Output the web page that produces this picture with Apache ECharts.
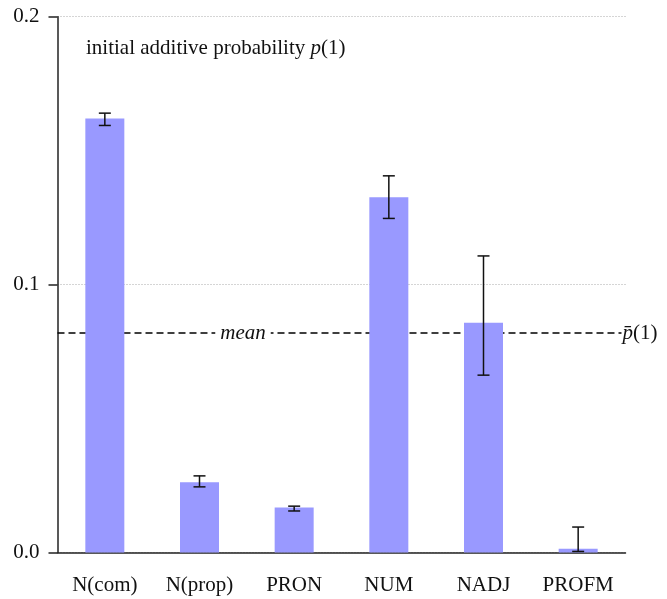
<!DOCTYPE html>
<html lang="en">
<head>
    <meta charset="UTF-8">
    <title>initial additive probability</title>
    <script src="https://cdn.jsdelivr.net/npm/echarts@6.0.0/dist/echarts.min.js"></script>
    <style>
        body { margin: 0; background: #fff; }
        #chart { width: 667px; height: 599px; }
    </style>
</head>
<body>
<div id="chart"></div>
<script type="text/javascript">

    // data
    let categories = ['N(com)', 'N(prop)', 'PRON', 'NUM', 'NADJ', 'PROFM'];
    let probValues = [0.1620, 0.0262, 0.0168, 0.1326, 0.0858, 0.0014];
    let errLow = [0.1594, 0.0245, 0.0155, 0.1247, 0.0662, 0.0004];
    let errHigh = [0.1640, 0.0286, 0.0173, 0.1406, 0.1107, 0.0095];
    let meanValue = 0.0819;
    let yTicks = [0, 0.1, 0.2];

    let serif = '"Liberation Serif", "DejaVu Serif", serif';
    let axisColor = '#222';
    let textColor = '#111';

    let errData = [];
    for (let i = 0; i < categories.length; i++) {
        errData.push([i, errLow[i], errHigh[i]]);
    }

    let myChart = echarts.init(document.getElementById('chart'));

    let option = {
        animation: false,
        backgroundColor: '#fff',
        title: {
            text: '{a|initial additive probability }{b|p}{a|(1)}',
            left: 81,
            top: 33,
            textStyle: {
                rich: {
                    a: {fontFamily: serif, fontSize: 21, color: textColor, fontWeight: 'normal'},
                    b: {fontFamily: serif, fontSize: 21, color: textColor, fontWeight: 'normal', fontStyle: 'italic'}
                }
            }
        },
        grid: {
            left: 57.5,
            right: 41.5,
            top: 16.7,
            bottom: 46.5
        },
        xAxis: {
            type: 'category',
            data: categories,
            axisLine: {lineStyle: {color: axisColor, width: 1.5}},
            axisTick: {length: 7, lineStyle: {color: axisColor, width: 1.5}},
            axisLabel: {fontFamily: serif, fontSize: 21, color: textColor, margin: 22}
        },
        yAxis: {
            type: 'value',
            min: yTicks[0],
            max: yTicks[yTicks.length - 1],
            interval: 0.1,
            axisLine: {show: true, lineStyle: {color: axisColor, width: 1.5}},
            axisTick: {show: true, length: 9, lineStyle: {color: axisColor, width: 1.5}},
            axisLabel: {
                fontFamily: serif, fontSize: 21, color: textColor, margin: 18,
                formatter: function (v) { return v.toFixed(1); }
            },
            splitLine: {
                show: true,
                lineStyle: {color: '#aaa', type: [1, 2], width: 1}
            }
        },
        series: [
            {
                // dashed mean line with its two labels, under the bars
                name: 'mean',
                type: 'custom',
                z: 1,
                silent: true,
                data: [[0, meanValue]],
                encode: {y: 1},
                renderItem: function (params, api) {
                    let cs = params.coordSys;
                    let y = api.coord([0, api.value(1)])[1];
                    return {
                        type: 'group',
                        children: [
                            {
                                type: 'line',
                                shape: {x1: cs.x, y1: y, x2: cs.x + cs.width - 4, y2: y},
                                style: {stroke: '#000', lineWidth: 1.5, lineDash: [7, 4]}
                            },
                            {
                                type: 'text',
                                x: 243,
                                y: y,
                                style: {
                                    text: 'mean',
                                    font: 'italic 21px ' + serif,
                                    fill: textColor,
                                    align: 'center',
                                    verticalAlign: 'middle',
                                    backgroundColor: '#fff',
                                    padding: [0, 5]
                                }
                            },
                            {
                                type: 'text',
                                x: cs.x + cs.width - 3,
                                y: y,
                                style: {
                                    text: '{b|p\u0304}{a|(1)}',
                                    align: 'left',
                                    verticalAlign: 'middle',
                                    rich: {
                                        a: {font: '21px ' + serif, fill: textColor},
                                        b: {font: 'italic 21px ' + serif, fill: textColor}
                                    }
                                }
                            }
                        ]
                    };
                }
            },
            {
                name: 'p(1)',
                type: 'bar',
                data: probValues,
                barWidth: 39,
                z: 2,
                itemStyle: {color: '#9999FF'}
            },
            {
                name: 'error',
                type: 'custom',
                z: 3,
                data: errData,
                encode: {x: 0, y: [1, 2]},
                renderItem: function (params, api) {
                    let lo = api.coord([api.value(0), api.value(1)]);
                    let hi = api.coord([api.value(0), api.value(2)]);
                    let half = 6;
                    let style = {stroke: '#111', lineWidth: 1.5};
                    return {
                        type: 'group',
                        children: [
                            {type: 'line', shape: {x1: lo[0], y1: lo[1], x2: hi[0], y2: hi[1]}, style: style},
                            {type: 'line', shape: {x1: lo[0] - half, y1: lo[1], x2: lo[0] + half, y2: lo[1]}, style: style},
                            {type: 'line', shape: {x1: hi[0] - half, y1: hi[1], x2: hi[0] + half, y2: hi[1]}, style: style}
                        ]
                    };
                }
            }
        ]
    };
    myChart.setOption(option);

</script>
</body>
</html>
